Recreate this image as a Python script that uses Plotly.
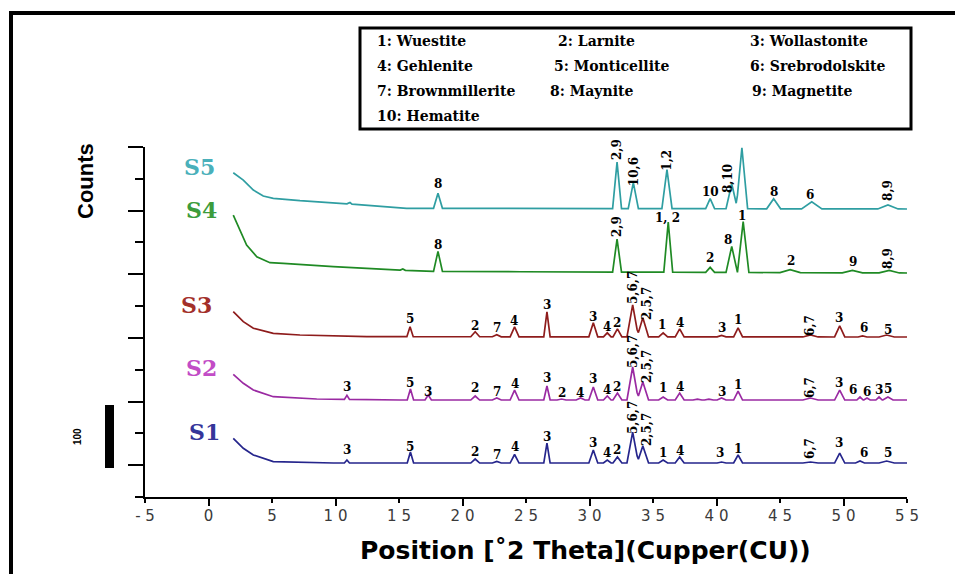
import numpy as np
import plotly.graph_objects as go

# ---------------- data ----------------
series_names = ["S1", "S2", "S3", "S4", "S5"]
line_colors = ["#25258c", "#9a2aa2", "#8e1c1c", "#1f8a24", "#2f9ea2"]
name_colors = ["#35359a", "#c24cc6", "#a3302a", "#3c9c3c", "#4ab0ba"]

# baselines (2theta, counts)
s1_base_x = [1.95, 2.74, 3.53, 5.10, 9.83, 55.0]
s1_base_y = [92.2, 76.5, 66.0, 55.5, 53.4, 53.4]
s2_base_x = [1.95, 2.74, 3.53, 5.10, 8.52, 15.08, 55.0]
s2_base_y = [192.8, 178.7, 168.1, 157.6, 154.0, 152.4, 152.4]
s3_base_x = [1.95, 2.74, 3.53, 5.10, 7.20, 12.46, 55.0]
s3_base_y = [291.2, 275.5, 265.1, 257.2, 254.6, 251.9, 251.4]
s4_base_x = [1.95, 2.48, 3.0, 3.80, 4.84, 5.89, 9.83, 15.08, 17.70, 24.53, 55.0]
s4_base_y = [443.1, 419.6, 396.0, 377.6, 368.2, 367.2, 361.9, 356.6, 354.5, 354.0, 352.0]
s5_base_x = [1.95, 2.74, 3.53, 4.31, 5.10, 7.20, 11.14, 15.08, 15.6, 55.0]
s5_base_y = [509.6, 498.1, 482.4, 473.0, 469.4, 465.6, 460.4, 455.2, 453.7, 452.6]

# peaks: position (2theta), height above baseline, half base width
s1_pk_pos = [10.9, 15.9, 21.0, 22.7, 24.1, 26.65, 30.3, 31.4, 32.2, 33.4, 34.2, 35.8, 37.1, 40.4, 41.7, 47.4, 49.7, 51.3, 53.4]
s1_pk_h = [4.7, 17.3, 6.3, 2.4, 13.4, 31.4, 20.4, 4.7, 9.4, 48.7, 26.7, 4.7, 9.4, 1.6, 12.6, 1.6, 15.7, 3.1, 3.1]
s1_pk_w = [0.2, 0.25, 0.35, 0.35, 0.35, 0.25, 0.35, 0.3, 0.35, 0.45, 0.45, 0.35, 0.35, 0.35, 0.35, 0.6, 0.4, 0.35, 0.6]

s2_pk_pos = [10.9, 15.9, 17.3, 21.0, 22.7, 24.1, 26.65, 27.8, 29.3, 30.3, 31.4, 32.2, 33.4, 34.2, 35.8, 37.1, 38.5, 39.4, 40.4, 41.7, 47.4, 49.7, 51.3, 51.85, 52.8, 53.5]
s2_pk_h = [6.3, 17.3, 7.9, 6.3, 3.1, 15.7, 22.0, 1.6, 3.1, 20.4, 6.3, 11.0, 51.9, 28.3, 4.7, 11.0, 1.5, 1.5, 3.1, 14.1, 3.1, 15.7, 4.7, 3.1, 4.7, 4.7]
s2_pk_w = [0.2, 0.25, 0.25, 0.35, 0.35, 0.35, 0.25, 0.35, 0.35, 0.35, 0.3, 0.35, 0.45, 0.45, 0.35, 0.35, 0.35, 0.35, 0.35, 0.35, 0.6, 0.4, 0.25, 0.25, 0.25, 0.4]

s3_pk_pos = [15.87, 21.0, 22.7, 24.1, 26.65, 30.3, 31.4, 32.2, 33.4, 34.2, 35.8, 37.1, 40.4, 41.7, 47.4, 49.7, 51.5, 53.4]
s3_pk_h = [15.7, 7.9, 3.1, 15.7, 39.3, 22.0, 6.3, 12.6, 50.3, 29.9, 6.3, 12.6, 2.4, 14.1, 3.1, 17.3, 1.6, 3.1]
s3_pk_w = [0.25, 0.35, 0.35, 0.35, 0.25, 0.35, 0.3, 0.35, 0.45, 0.45, 0.35, 0.35, 0.35, 0.35, 0.6, 0.4, 0.35, 0.6]

s4_pk_pos = [15.3, 18.07, 32.17, 36.2, 39.5, 41.2, 42.1, 45.8, 50.7, 53.6]
s4_pk_h = [2.0, 31.4, 51.9, 78.6, 7.9, 40.9, 80.0, 4.7, 3.9, 3.9]
s4_pk_w = [0.2, 0.35, 0.35, 0.35, 0.35, 0.45, 0.45, 0.8, 0.8, 0.8]

s5_pk_pos = [11.1, 18.07, 32.17, 33.45, 36.1, 39.5, 41.2, 42.0, 44.5, 47.5, 53.5]
s5_pk_h = [3.0, 23.6, 73.0, 40.9, 61.3, 15.7, 39.3, 95.9, 15.7, 11.0, 6.3]
s5_pk_w = [0.2, 0.35, 0.35, 0.4, 0.4, 0.35, 0.45, 0.45, 0.55, 0.8, 0.8]

# phase-number labels: horizontal ones and vertical (rotated) ones
s1_lbl_x = [10.9, 15.87, 20.98, 22.72, 24.13, 26.65, 30.28, 31.38, 32.17, 35.79, 37.13, 40.28, 41.69, 49.65, 51.6, 53.5]
s1_lbl_y = [73.9, 78.6, 70.7, 66.0, 78.6, 94.3, 84.9, 69.1, 73.9, 69.1, 72.3, 69.1, 75.4, 84.9, 69.1, 69.1]
s1_lbl_t = ["3", "5", "2", "7", "4", "3", "3", "4", "2", "1", "4", "3", "1", "3", "6", "5"]
s1_rot_x = [33.43, 34.53, 47.36]
s1_rot_y = [124.1, 105.3, 77.0]
s1_rot_t = ["5,6,7", "2,5,7", "6,7"]

s2_lbl_x = [10.9, 15.87, 17.28, 20.98, 22.72, 24.13, 26.65, 27.83, 29.25, 30.28, 31.38, 32.17, 35.79, 37.13, 40.43, 41.69, 49.65, 50.75, 51.85, 52.8, 53.5]
s2_lbl_y = [172.9, 179.1, 165.0, 171.3, 165.0, 177.6, 187.0, 163.4, 163.4, 185.4, 168.1, 172.9, 171.3, 172.9, 165.0, 176.0, 179.1, 168.1, 165.0, 168.1, 169.7]
s2_lbl_t = ["3", "5", "3", "2", "7", "4", "3", "2", "4", "3", "4", "2", "1", "4", "3", "1", "3", "6", "6", "3", "5"]
s2_rot_x = [33.43, 34.53, 47.36]
s2_rot_y = [227.9, 204.3, 172.9]
s2_rot_t = ["5,6,7", "2,5,7", "6,7"]

s3_lbl_x = [15.87, 20.98, 22.72, 24.06, 26.65, 30.28, 31.38, 32.17, 35.7, 37.13, 40.43, 41.69, 49.65, 51.6, 53.5]
s3_lbl_y = [279.7, 268.7, 265.6, 276.6, 301.7, 282.9, 267.1, 273.4, 270.3, 273.4, 265.6, 278.1, 281.3, 265.6, 262.4]
s3_lbl_t = ["5", "2", "7", "4", "3", "3", "4", "2", "1", "4", "3", "1", "3", "6", "5"]
s3_rot_x = [33.43, 34.53, 47.36]
s3_rot_y = [328.4, 303.3, 270.3]
s3_rot_t = ["5,6,7", "2,5,7", "6,7"]

s4_lbl_x = [18.07, 36.15, 42.0, 39.49, 40.9, 45.87, 50.75]
s4_lbl_y = [396.0, 438.4, 441.5, 375.6, 403.8, 370.9, 369.3]
s4_lbl_t = ["8", "1, 2", "1", "2", "8", "2", "9"]
s4_rot_x = [32.17, 53.5]
s4_rot_y = [424.3, 375.6]
s4_rot_t = ["2,9", "8,9"]

s5_lbl_x = [18.07, 39.49, 42.0, 44.53, 47.4]
s5_lbl_y = [491.8, 479.0, 559.0, 479.0, 474.6]
s5_lbl_t = ["8", "10", "1", "8", "6"]
s5_rot_x = [32.17, 33.5, 36.1, 40.9, 53.5]
s5_rot_y = [545.3, 512.0, 530.0, 501.0, 482.4]
s5_rot_t = ["2,9", "10,6", "1,2", "8,10", "8,9"]

# series name positions
name_x = [-0.28, -0.59, -0.91, -0.59, -0.67]
name_y = [102.1, 202.7, 301.7, 451.0, 518.6]

legend_rows = [
    ["1: Wuestite", "2: Larnite", "3: Wollastonite"],
    ["4: Gehlenite", "5: Monticellite", "6: Srebrodolskite"],
    ["7: Brownmillerite", "8: Maynite", "9: Magnetite"],
    ["10: Hematite"],
]

x_tick_vals = [-5, 0, 5, 10, 15, 20, 25, 30, 35, 40, 45, 50, 55]
x_tick_text = ["- 5", "0", "5", "1 0", "1 5", "2 0", "2 5", "3 0", "3 5", "4 0", "4 5", "5 0", "5 5"]

# ---------------- build ----------------
bases = [(s1_base_x, s1_base_y), (s2_base_x, s2_base_y), (s3_base_x, s3_base_y),
         (s4_base_x, s4_base_y), (s5_base_x, s5_base_y)]
peaks = [(s1_pk_pos, s1_pk_h, s1_pk_w), (s2_pk_pos, s2_pk_h, s2_pk_w), (s3_pk_pos, s3_pk_h, s3_pk_w),
         (s4_pk_pos, s4_pk_h, s4_pk_w), (s5_pk_pos, s5_pk_h, s5_pk_w)]
labels = [(s1_lbl_x, s1_lbl_y, s1_lbl_t), (s2_lbl_x, s2_lbl_y, s2_lbl_t), (s3_lbl_x, s3_lbl_y, s3_lbl_t),
          (s4_lbl_x, s4_lbl_y, s4_lbl_t), (s5_lbl_x, s5_lbl_y, s5_lbl_t)]
rlabels = [(s1_rot_x, s1_rot_y, s1_rot_t), (s2_rot_x, s2_rot_y, s2_rot_t), (s3_rot_x, s3_rot_y, s3_rot_t),
           (s4_rot_x, s4_rot_y, s4_rot_t), (s5_rot_x, s5_rot_y, s5_rot_t)]


def vertices(bx, by, pos, h, w):
    """Polyline vertices: baseline knots plus foot/apex of every peak."""
    xs = set(bx)
    for p, ww in zip(pos, w):
        xs.update([p - ww, p, p + ww])
    xs = np.array(sorted(xs))
    ys = np.interp(xs, bx, by)
    for p, hh, ww in zip(pos, h, w):
        ys = ys + hh * np.clip(1 - np.abs(xs - p) / ww, 0, None)
    return xs, ys


fig = go.Figure()
for i, name in enumerate(series_names):
    xs, ys = vertices(*bases[i], *peaks[i])
    fig.add_trace(go.Scatter(x=xs, y=ys, mode="lines", name=name,
                             line=dict(color=line_colors[i], width=1.7),
                             showlegend=False, hoverinfo="skip"))

annotations = []
num_font = dict(family="DejaVu Serif", size=12, color="black", weight="bold")
rot_font = dict(family="DejaVu Serif", size=12, color="black", weight="bold")
for i in range(5):
    for x, y, t in zip(*labels[i]):
        annotations.append(dict(x=x, y=y, xref="x", yref="y", text=t, showarrow=False,
                                font=num_font, xanchor="center", yanchor="middle"))
    for x, y, t in zip(*rlabels[i]):
        annotations.append(dict(x=x, y=y, xref="x", yref="y", text=t, showarrow=False,
                                font=rot_font, textangle=-90, xanchor="center", yanchor="middle"))
    annotations.append(dict(x=name_x[i], y=name_y[i], xref="x", yref="y", text=series_names[i],
                            showarrow=False, xanchor="center", yanchor="middle",
                            font=dict(family="DejaVu Serif", size=22, color=name_colors[i], weight="bold")))

# pixel -> paper helpers for the plot area (145..907, 147..497)
L, R, T, B = 145, 907, 147, 497


def px(xp):
    return (xp - L) / (R - L)


def py(yp):
    return (B - yp) / (B - T)


leg_font = dict(family="DejaVu Serif", size=14, color="black", weight="bold")
row_y = [41, 66, 91, 116]
col_x = [[375, 556, 748], [375, 552, 748], [375, 548, 750], [375]]
for r, row in enumerate(legend_rows):
    for c, txt in enumerate(row):
        annotations.append(dict(x=px(col_x[r][c]), y=py(row_y[r]), xref="paper", yref="paper",
                                text=txt, showarrow=False, xanchor="left", yanchor="middle",
                                font=leg_font))

annotations.append(dict(x=px(585), y=py(550), xref="paper", yref="paper",
                        text="Position [˚2 Theta](Cupper(CU))", showarrow=False,
                        xanchor="center", yanchor="middle",
                        font=dict(family="DejaVu Sans", size=25, color="black", weight="bold")))
annotations.append(dict(x=px(85), y=py(181), xref="paper", yref="paper", text="Counts",
                        showarrow=False, textangle=-90, xanchor="center", yanchor="middle",
                        font=dict(family="Liberation Sans Narrow, Liberation Sans", size=22,
                                  color="black", weight="bold")))
annotations.append(dict(x=px(77), y=py(437), xref="paper", yref="paper", text="100",
                        showarrow=False, textangle=-90, xanchor="center", yanchor="middle",
                        font=dict(family="Liberation Sans Narrow, Liberation Sans", size=10,
                                  color="black", weight="bold")))

shapes = [
    # legend box
    dict(type="rect", xref="paper", yref="paper", x0=px(360), x1=px(911), y0=py(129), y1=py(28),
         line=dict(color="black", width=3), fillcolor="rgba(0,0,0,0)"),
    # outer frame
    dict(type="rect", xref="paper", yref="paper", x0=px(11), x1=px(1000), y0=py(640), y1=py(13),
         line=dict(color="black", width=4), fillcolor="rgba(0,0,0,0)"),
    # scale bar
    dict(type="rect", xref="paper", yref="paper", x0=px(105), x1=px(114), y0=py(468), y1=py(405),
         line=dict(width=0), fillcolor="black"),
]

fig.update_layout(
    width=955, height=574,
    margin=dict(l=L, r=955 - R, t=T, b=574 - B),
    paper_bgcolor="white", plot_bgcolor="white",
    annotations=annotations, shapes=shapes,
    xaxis=dict(range=[-5, 55], tickmode="array", tickvals=x_tick_vals, ticktext=x_tick_text,
               ticks="outside", ticklen=4, tickwidth=2, tickcolor="black",
               showline=True, linecolor="black", linewidth=2, showgrid=False, zeroline=False,
               tickfont=dict(family="DejaVu Sans", size=15, color="#3a3a3a"),
               minor=dict(tickmode="array", tickvals=[0, 10, 20, 30, 40, 50], ticks="outside",
                          ticklen=7, tickwidth=2, tickcolor="black")),
    yaxis=dict(range=[0, 550], tickmode="array", tickvals=[50, 150, 250, 350, 450, 550],
               ticktext=[""] * 6, ticks="outside", ticklen=15, tickwidth=2, tickcolor="black",
               showline=True, linecolor="black", linewidth=2, showgrid=False, zeroline=False,
               minor=dict(tickmode="array", tickvals=[0, 100, 200, 300, 400, 500], ticks="outside",
                          ticklen=8, tickwidth=2, tickcolor="black")),
)

fig.write_html("out.html", config={"displayModeBar": False},
               post_script="document.body.style.margin='0';document.body.style.padding='0';"
                           "document.body.style.overflow='hidden';")
